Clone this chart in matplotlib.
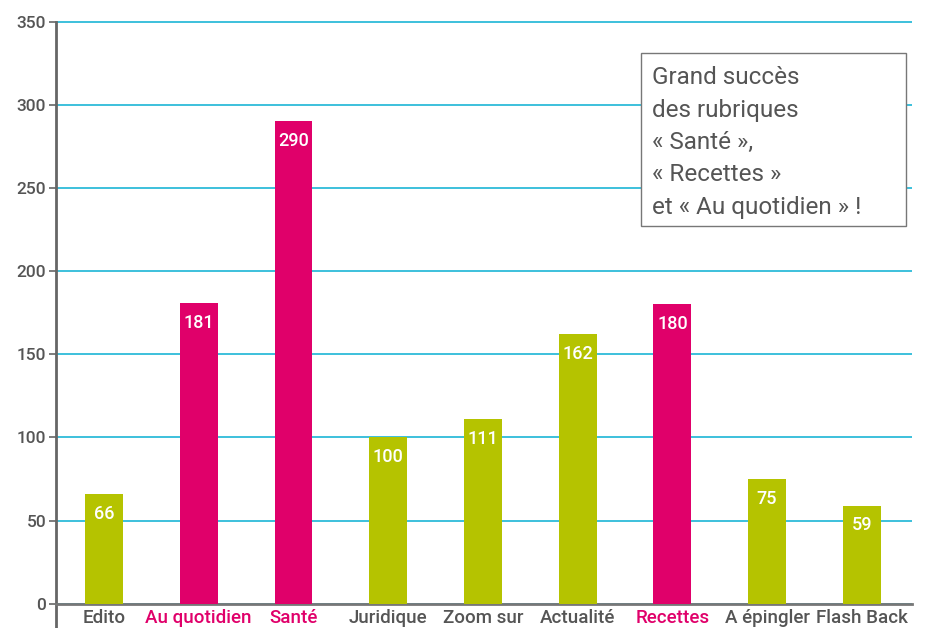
import matplotlib.pyplot as plt
from matplotlib.patches import Rectangle

categories = ["Edito", "Au quotidien", "Santé", "Juridique", "Zoom sur",
              "Actualité", "Recettes", "A épingler", "Flash Back"]
values = [66, 181, 290, 100, 111, 162, 180, 75, 59]
highlight = [False, True, True, False, False, False, True, False, False]
note_lines = ["Grand succès", "des rubriques", "« Santé »,",
              "« Recettes »", "et « Au quotidien » !"]

GREEN = "#b5c300"
PINK = "#e0006a"
GRID = "#3cc0dc"
GREY = "#555555"

plt.rcParams["font.family"] = ["Roboto", "DejaVu Sans"]

fig = plt.figure(figsize=(9.28, 6.28), dpi=100)
ax = fig.add_axes([56 / 928, 1 / 628, 856 / 928, 607 / 628])

x = list(range(len(categories)))
colors = [PINK if h else GREEN for h in highlight]
ax.bar(x, values, width=0.4, color=colors, zorder=3)

for xi, v in zip(x, values):
    ax.text(xi, v - 6.5, str(v), ha="center", va="top", color="white",
            fontsize=13, fontweight="medium", zorder=4)

ax.set_xlim(-0.507, 8.53)
ax.set_ylim(-14, 351)
ax.set_yticks(range(0, 351, 50))
ax.yaxis.grid(True, color=GRID, linewidth=1.4, zorder=1)
ax.set_axisbelow(True)

ax.spines["top"].set_visible(False)
ax.spines["right"].set_visible(False)
ax.spines["bottom"].set_position(("data", 0))
ax.spines["bottom"].set_color("#777777")
ax.spines["bottom"].set_linewidth(2)
ax.spines["left"].set_color("#666666")
ax.spines["left"].set_linewidth(2)
ax.spines["left"].set_bounds(-14, 350)

ax.tick_params(axis="y", colors="#666666", labelcolor=GREY, labelsize=12.5,
               length=5, width=1.2, pad=2)
ax.tick_params(axis="x", length=0, labelsize=13.5, pad=4)
ax.set_xticks(x)
ax.set_xticklabels(categories, fontweight="medium")
for lbl, h in zip(ax.get_xticklabels(), highlight):
    lbl.set_color(PINK if h else GREY)
for lbl in ax.get_yticklabels():
    lbl.set_fontweight("medium")

fig.patches.append(Rectangle((641 / 928, 1 - 226 / 628), 265 / 928, 173 / 628,
                             transform=fig.transFigure, facecolor="white",
                             edgecolor="#777777", linewidth=1, zorder=5))
for i, line in enumerate(note_lines):
    fig.text(652 / 928, 1 - (78 + i * 32.3) / 628, line, ha="left",
             va="center", fontsize=17.5, color=GREY, zorder=6)

fig.savefig("out.png", dpi=100)
